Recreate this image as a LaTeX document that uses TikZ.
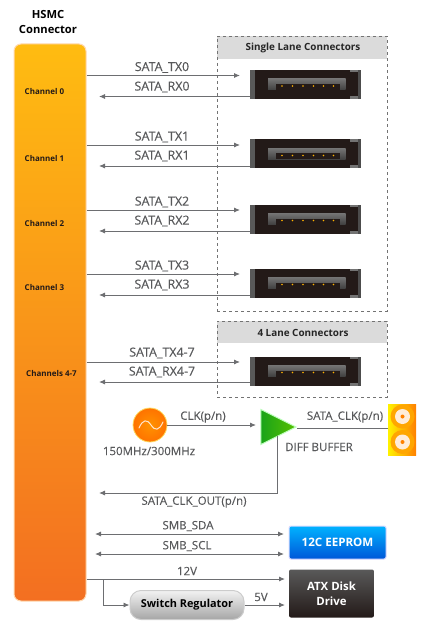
\documentclass[tikz,border=0pt]{standalone}
\usepackage{fontspec}
\setmainfont{Open Sans}
\newfontfamily\sigfont[FakeBold=0.25]{Open Sans}
\usepackage{xcolor}
\usepackage{tikz}
\usetikzlibrary{arrows.meta,calc,shapes.geometric,positioning}

\definecolor{sigline}{HTML}{6D6E71}
\definecolor{siglabel}{HTML}{58595B}
\definecolor{connblack}{HTML}{231A18}
\definecolor{hsmctop}{HTML}{FFBC11}
\definecolor{hsmcmid}{HTML}{F9991D}
\definecolor{hsmcbot}{HTML}{F36F21}

\tikzset{
    sig/.style={draw=sigline,line width=0.9pt,-{Latex[length=6pt,width=5pt]}},
    sigboth/.style={draw=sigline,line width=0.9pt,{Latex[length=6pt,width=5pt]}-{Latex[length=6pt,width=5pt]}},
    plainsig/.style={draw=sigline,line width=0.9pt},
    siglbl/.style={text=siglabel,font=\sigfont\fontsize{11.5}{14}\selectfont,inner sep=0pt},
    satalbl/.style={text=siglabel,font=\sigfont\fontsize{12.4}{14}\selectfont,inner sep=0pt},
    chanlbl/.style={text=connblack,font=\fontsize{8}{10}\selectfont\bfseries,inner sep=0pt},
    headlbl/.style={text=black!85,font=\fontsize{9.9}{12}\selectfont\bfseries,inner sep=0pt},
    lanebox/.style={draw=black!55,dashed,line width=0.8pt,inner sep=0pt},
    laneband/.style={fill=black!14,draw=none,inner sep=0pt},
    satabox/.style={
        fill=connblack,draw=none,inner sep=0pt,minimum width=111pt,minimum height=29pt,
        path picture={
            \begin{scope}[shift={(path picture bounding box.center)}]
                \fill[black!65] (-55.5,-14.5) rectangle (-51,14.5);
                \fill[black!55] (44.5,-14.5) rectangle (55.5,-12);
                \fill[black!55] (44.5,11.5) rectangle (55.5,14.5);
                \fill[black!70] (52.5,-14.5) rectangle (55.5,14.5);
                \shade[top color=black!55,bottom color=black!75] (-37.5,-5.5) rectangle (40,5.5);
                \fill[connblack] (-30,-0.5) rectangle (34.5,5.5);
                \fill[orange!60!yellow] (-23.5,1.5) circle (0.9) (-13,1.5) circle (0.9) (-2.5,1.5) circle (0.9)
                    (8,1.5) circle (0.9) (18,1.5) circle (0.9) (28,1.5) circle (0.9);
            \end{scope}
        }},
}

\begin{document}
\begin{tikzpicture}[x=1pt,y=-1pt]
    \useasboundingbox (0,0) rectangle (431,631);

    % connector column
    \node[draw=orange!30,line width=1pt,rounded corners=7pt,top color=hsmctop,middle color=hsmcmid,bottom color=hsmcbot,
          minimum width=72pt,minimum height=557pt,inner sep=0pt] (hsmc) at (50,322.5) {};
    \node[align=center,text=black,font=\fontsize{11.2}{15}\selectfont\bfseries,inner sep=0pt] (hsmctitle) at (48,22) {HSMC\\Connector};
    \node[chanlbl] (chan0) at (44.5,92) {Channel 0};
    \node[chanlbl] (chan1) at (44.5,158) {Channel 1};
    \node[chanlbl] (chan2) at (44.5,223) {Channel 2};
    \node[chanlbl] (chan3) at (44.5,287) {Channel 3};
    \node[chanlbl] (chan4) at (51.5,373) {Channels  4-7};

    % lane groups
    \node[laneband,minimum width=170pt,minimum height=23pt] (singleband) at (302,47.5) {};
    \node[lanebox,minimum width=170pt,minimum height=275pt] (singlebox) at (302,173.5) {};
    \node[headlbl] (singlehead) at (303,48) {Single Lane Connectors};
    \node[laneband,minimum width=170pt,minimum height=22pt] (fourband) at (302,332) {};
    \node[lanebox,minimum width=170pt,minimum height=76pt] (fourbox) at (302,359) {};
    \node[headlbl] (fourhead) at (303,333) {4 Lane Connectors};

    \node[satabox] (sata0) at (305.5,84.5) {};
    \node[satabox] (sata1) at (305.5,154) {};
    \node[satabox] (sata2) at (305.5,219) {};
    \node[satabox] (sata3) at (305.5,283) {};
    \node[satabox] (sata4) at (305.5,371) {};

    % free ends of the signals
    \coordinate (tx0) at (240,75.5);
    \coordinate (rx0) at (99,96.5);
    \coordinate (tx1) at (240,145);
    \coordinate (rx1) at (99,166);
    \coordinate (tx2) at (240,210);
    \coordinate (rx2) at (99,231);
    \coordinate (tx3) at (240,274);
    \coordinate (rx3) at (99,295);
    \coordinate (tx4) at (240,362);
    \coordinate (rx4) at (99,382);

    \draw[sig] (hsmc.east |- tx0) -- (tx0);
    \draw[sig] (sata0.west |- rx0) -- (rx0);
    \draw[sig] (hsmc.east |- tx1) -- (tx1);
    \draw[sig] (sata1.west |- rx1) -- (rx1);
    \draw[sig] (hsmc.east |- tx2) -- (tx2);
    \draw[sig] (sata2.west |- rx2) -- (rx2);
    \draw[sig] (hsmc.east |- tx3) -- (tx3);
    \draw[sig] (sata3.west |- rx3) -- (rx3);
    \draw[sig] (hsmc.east |- tx4) -- (tx4);
    \draw[sig] (sata4.west |- rx4) -- (rx4);

    \node[satalbl] (ltx0) at (162,67.5) {SATA\_TX0};
    \node[satalbl] (lrx0) at (162,87) {SATA\_RX0};
    \node[satalbl] (ltx1) at (162,137) {SATA\_TX1};
    \node[satalbl] (lrx1) at (162,156) {SATA\_RX1};
    \node[satalbl] (ltx2) at (162,202) {SATA\_TX2};
    \node[satalbl] (lrx2) at (162,221) {SATA\_RX2};
    \node[satalbl] (ltx3) at (162,266) {SATA\_TX3};
    \node[satalbl] (lrx3) at (162,285) {SATA\_RX3};
    \node[satalbl] (ltx4) at (162,353) {SATA\_TX4-7};
    \node[satalbl] (lrx4) at (162,372) {SATA\_RX4-7};

    % clock
    \node[circle,draw=yellow!60!orange!60,line width=0.8pt,inner color=orange!85!yellow,outer color=orange!90!red,minimum size=34pt,inner sep=0pt] (osc) at (150,425) {};
    \draw[white!80!orange,line width=1pt,line cap=round] (139,428) .. controls (143,419) and (147,419) .. (151,425) .. controls (155,431) and (159,431) .. (163,422);
    \node[siglbl] (lfreq) at (149,451) {150MHz/300MHz};
    \node[isosceles triangle,isosceles triangle apex angle=56,isosceles triangle stretches,minimum width=35pt,minimum height=35pt,inner sep=0pt,anchor=apex,
          draw=green!25!white,line width=1pt,left color=green!60!black!90,right color=green!55!yellow!75!black] (buffer) at (297,427) {};
    \draw[sig] (osc.east) -- (256,425) coordinate (clkend);
    \node[siglbl] (lclk) at (203,417) {CLK(p/n)};
    \node[draw=none,left color=yellow!90!orange,right color=orange,minimum width=28pt,minimum height=51pt,inner sep=0pt] (sma) at (402,429.5) {};
    \draw[fill=orange!70!yellow,draw=none] (402.5,416.5) circle (12);
    \draw[fill=orange!70!yellow,draw=none] (402.5,442) circle (12);
    \draw[fill=orange!15!white,draw=none] (402.5,416.5) circle (7.5);
    \draw[fill=orange!15!white,draw=none] (402.5,442) circle (7.5);
    \draw[fill=orange,draw=none] (402.5,416.5) circle (2);
    \draw[fill=orange,draw=none] (402.5,442) circle (2);
    \draw[plainsig] (buffer.apex) ++(0,1) -- (sma.west |- 0,428);
    \node[siglbl] (lsmaclk) at (345,417) {SATA\_CLK(p/n)};
    \node[siglbl] (lbuf) at (319,447) {DIFF BUFFER};
    \coordinate (clkout) at (99,493);
    \draw[sig] (277,436) |- (clkout);
    \node[siglbl] (lclkout) at (194,502) {SATA\_CLK\_OUT(p/n)};

    % management and power
    \node[draw=blue!15,line width=1pt,rounded corners=2pt,top color=cyan!70!blue,bottom color=blue!60!cyan!85!black,minimum width=97pt,minimum height=33pt,inner sep=0pt,
          text=white,font=\fontsize{11.6}{14}\selectfont\bfseries] (eeprom) at (337.5,542.5) {12C EEPROM};
    \node[rounded corners=2pt,top color=black!65,bottom color=connblack,minimum width=85pt,minimum height=48pt,inner sep=0pt,align=center,
          text=white,font=\fontsize{11.4}{15}\selectfont\bfseries] (atx) at (331.5,593.5) {ATX Disk\\Drive};
    \node[draw=black!20,line width=1pt,rounded corners=11pt,top color=black!5,bottom color=black!35,minimum width=114pt,minimum height=29pt,inner sep=0pt,
          text=black,font=\fontsize{10.9}{13}\selectfont\bfseries] (regulator) at (187,605) {Switch Regulator};

    \coordinate (sda) at (95,534);
    \coordinate (scl) at (95,554);
    \draw[sigboth] (sda) -- (284,534);
    \draw[sigboth] (scl) -- (284,554);
    \node[siglbl] (lsda) at (188,526) {SMB\_SDA};
    \node[siglbl] (lscl) at (187,546) {SMB\_SCL};

    \coordinate (vbranch) at (103,579);
    \draw[sig] (hsmc.east |- vbranch) -- (285,579);
    \draw[sig] (vbranch) |- (regulator.west);
    \draw[sig] (regulator.east) -- (285,605);
    \node[siglbl] (l12v) at (187,571) {12V};
    \node[siglbl] (l5v) at (261,597) {5V};
\end{tikzpicture}
\end{document}
